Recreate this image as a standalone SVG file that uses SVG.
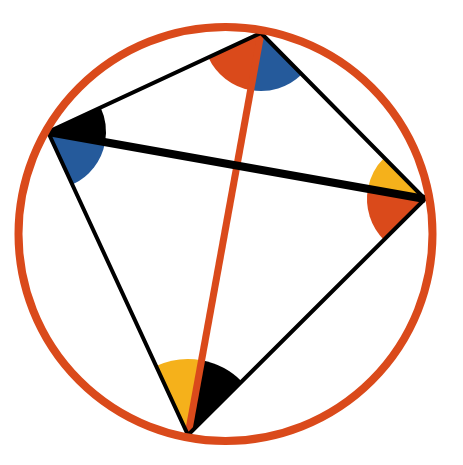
<svg xmlns="http://www.w3.org/2000/svg" width="463" height="465" viewBox="0 0 463 465">
  <style>
    .orange { fill: #DA4A1B; }
    .blue { fill: #255A9B; }
    .yellow { fill: #F5B11B; }
    .black { fill: #000000; }
    .edge { fill: none; stroke: #000000; stroke-width: 4; stroke-linejoin: miter; }
  </style>
  <rect width="463" height="465" fill="#FFFFFF"/>
  <g id="vertex-top">
    <path class="orange" d="M261,33 L208.4,57.4 A58,58 0 0 0 250.6,90.1 Z"/>
    <path class="blue" d="M261,33 L250.6,90.1 A58,58 0 0 0 301.8,74.3 Z"/>
  </g>
  <g id="vertex-left">
    <path class="black" d="M48,132 L100.6,107.6 A58,58 0 0 1 105.1,142.2 Z"/>
    <path class="blue" d="M48,132 L105.1,142.2 A58,58 0 0 1 72.3,184.6 Z"/>
  </g>
  <g id="vertex-right">
    <path class="yellow" d="M425,199 L384.2,157.7 A58,58 0 0 0 367.9,188.85 Z"/>
    <path class="orange" d="M425,199 L367.9,188.85 A58,58 0 0 0 383.9,239.9 Z"/>
  </g>
  <g id="vertex-bottom">
    <path class="yellow" d="M188,435 L156.1,366 A76,76 0 0 1 201.6,360.2 Z"/>
    <path class="black" d="M188,435 L201.6,360.2 A76,76 0 0 1 241.8,381.4 Z"/>
  </g>
  <g id="connectors">
    <line x1="261" y1="33" x2="188" y2="435" stroke="#DA4A1B" stroke-width="7"/>
    <line x1="48" y1="132" x2="425" y2="199" stroke="#000000" stroke-width="8"/>
    <polygon class="edge" points="261,33 425,199 188,435 48,132"/>
  </g>
  <g id="circle">
    <circle cx="225.5" cy="234" r="207" fill="none" stroke="#DA4A1B" stroke-width="8"/>
  </g>
</svg>
